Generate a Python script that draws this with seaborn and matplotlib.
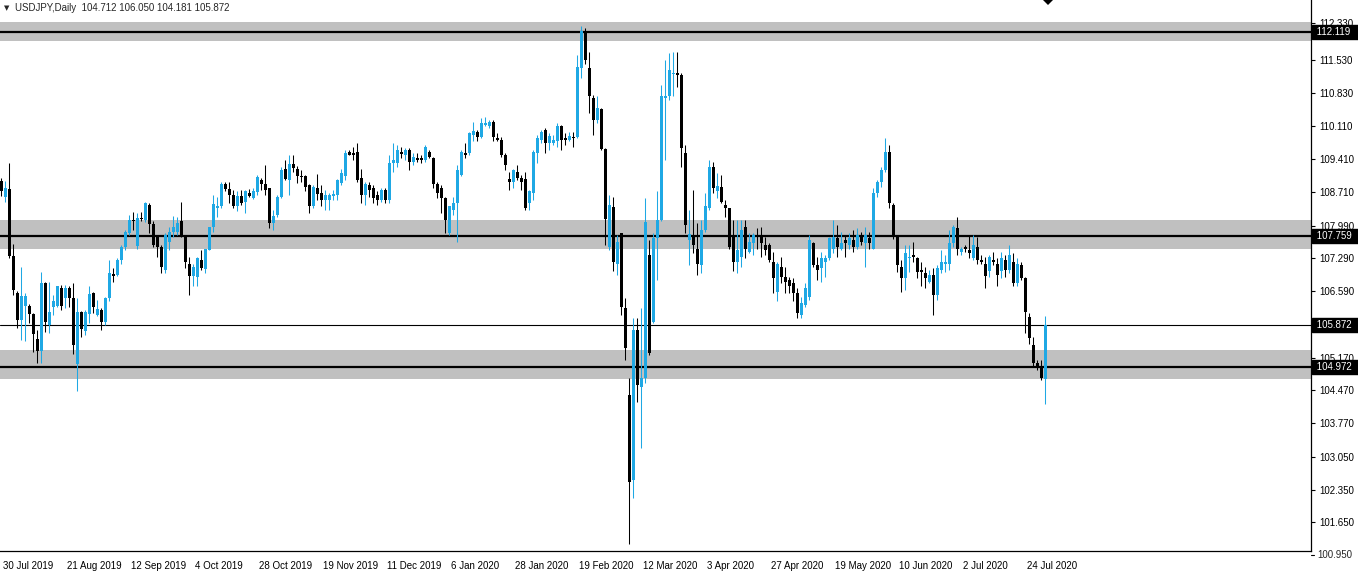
"""
USDJPY daily candles, 30 Jul 2019 - 31 Jul 2020, in the MT4 look
(support/resistance zones and level lines on a white chart).
"""

import numpy as np
import matplotlib
matplotlib.use("Agg")
import matplotlib.pyplot as plt
import matplotlib.transforms as mtransforms
from matplotlib.patches import Polygon
import seaborn as sns

# one bar per trading day (no bars on 25 Dec / 1 Jan)
opens = [
    108.95, 108.61, 108.77, 107.34, 106.55, 105.97, 106.28, 106.28, 106.10, 105.57,
    105.30, 106.77, 105.87, 106.26, 106.27, 106.66, 106.44, 106.65, 106.45, 105.03,
    106.14, 105.73, 106.10, 106.54, 106.07, 106.19, 105.94, 106.44, 106.95, 106.93,
    107.26, 107.54, 107.83, 108.11, 107.55, 108.16, 108.11, 108.43, 108.02, 107.75,
    107.54, 107.04, 107.65, 107.86, 107.86, 108.09, 107.74, 107.18, 106.91, 106.90,
    107.26, 107.06, 107.47, 107.95, 108.36, 108.41, 108.87, 108.77, 108.64, 108.41,
    108.62, 108.49, 108.69, 108.58, 108.70, 108.97, 108.89, 108.79, 108.04, 108.22,
    108.61, 109.20, 108.97, 109.30, 109.21, 109.05, 109.04, 108.86, 108.40, 108.79,
    108.68, 108.54, 108.54, 108.63, 108.65, 108.91, 109.04, 109.57, 109.54, 109.57,
    109.00, 108.65, 108.86, 108.79, 108.65, 108.54, 108.75, 108.54, 109.32, 109.32,
    109.57, 109.50, 109.61, 109.36, 109.43, 109.43, 109.39, 109.57, 109.43, 108.89,
    108.79, 108.57, 107.83, 108.32, 108.47, 109.07, 109.54, 109.54, 109.93, 110.00,
    109.89, 110.14, 110.11, 110.21, 109.86, 109.83, 109.50, 108.99, 108.93, 109.14,
    109.00, 108.99, 108.47, 108.68, 109.54, 109.82, 110.03, 109.76, 109.76, 109.79,
    110.12, 109.86, 109.82, 109.89, 109.89, 111.35, 112.10, 111.35, 110.71, 110.25,
    110.48, 109.62, 107.54, 108.39, 107.18, 107.83, 106.24, 104.37, 102.55, 105.76,
    104.55, 104.73, 107.36, 105.94, 107.72, 108.11, 110.71, 110.75, 111.22, 111.25,
    111.21, 109.54, 107.68, 107.75, 107.50, 107.15, 107.90, 108.36, 109.25, 108.72,
    108.82, 108.43, 108.36, 107.79, 107.22, 107.33, 107.97, 107.43, 107.61, 107.79,
    107.79, 107.58, 107.58, 107.22, 106.58, 107.11, 106.90, 106.83, 106.76, 106.54,
    106.08, 106.30, 106.47, 107.61, 107.15, 107.08, 107.22, 107.29, 107.50, 107.72,
    107.50, 107.68, 107.58, 107.68, 107.54, 107.75, 107.61, 107.72, 107.50, 108.68,
    108.93, 109.18, 109.57, 108.43, 107.75, 107.11, 106.86, 107.29, 107.36, 107.29,
    107.04, 106.97, 106.79, 106.93, 106.51, 107.04, 107.18, 107.18, 107.61, 107.93,
    107.43, 107.54, 107.47, 107.29, 107.54, 107.26, 107.18, 107.01, 107.26, 107.18,
    107.01, 107.26, 107.04, 107.22, 106.76, 107.15, 106.86, 106.04, 105.44, 105.05,
    104.94, 104.712,
]
highs = [
    109.00, 108.95, 109.32, 107.59, 106.60, 107.10, 106.55, 106.32, 106.12, 105.76,
    106.99, 106.79, 106.78, 106.50, 106.71, 106.72, 106.72, 106.70, 106.77, 106.44,
    106.16, 106.19, 106.69, 106.58, 106.40, 106.22, 106.47, 107.26, 107.08, 107.29,
    107.58, 107.90, 108.22, 108.29, 108.25, 108.29, 108.50, 108.47, 108.08, 107.79,
    107.58, 107.83, 107.97, 108.20, 108.18, 108.49, 107.79, 107.31, 107.18, 107.33,
    107.47, 107.50, 107.97, 108.64, 108.61, 108.93, 108.93, 108.93, 108.75, 108.72,
    108.75, 108.75, 108.78, 108.80, 109.07, 109.00, 109.29, 108.79, 108.32, 108.65,
    109.25, 109.39, 109.50, 109.50, 109.26, 109.18, 109.07, 108.89, 108.86, 109.09,
    108.86, 108.75, 108.68, 108.75, 108.99, 109.21, 109.61, 109.61, 109.68, 109.75,
    109.21, 108.93, 108.93, 108.86, 108.72, 108.79, 108.79, 109.50, 109.75, 109.71,
    109.68, 109.64, 109.64, 109.54, 109.54, 109.50, 109.71, 109.61, 109.46, 108.93,
    108.86, 108.61, 108.40, 108.61, 109.29, 109.61, 109.75, 110.00, 110.21, 110.03,
    110.28, 110.32, 110.25, 110.25, 109.96, 109.89, 109.54, 109.14, 109.21, 109.29,
    109.07, 109.14, 108.75, 109.61, 109.93, 110.03, 110.07, 109.96, 109.93, 110.18,
    110.14, 109.96, 110.00, 110.00, 111.64, 112.26, 112.21, 111.71, 110.78, 110.75,
    110.50, 109.64, 108.64, 108.61, 107.79, 107.83, 106.44, 104.73, 106.01, 106.01,
    106.22, 108.57, 107.68, 107.83, 108.72, 111.00, 111.53, 111.67, 111.71, 111.71,
    111.25, 109.71, 108.32, 108.75, 108.04, 108.11, 108.68, 109.39, 109.36, 109.11,
    109.07, 108.54, 108.36, 108.11, 108.11, 108.11, 108.11, 107.83, 107.83, 107.93,
    107.97, 107.75, 107.61, 107.43, 107.22, 107.33, 107.11, 106.90, 106.86, 106.65,
    106.47, 106.76, 107.79, 107.65, 107.33, 107.43, 107.36, 107.75, 108.11, 108.00,
    107.86, 107.79, 107.83, 107.90, 107.93, 107.86, 107.97, 107.86, 108.79, 108.97,
    109.25, 109.86, 109.71, 108.47, 107.78, 107.25, 107.58, 107.58, 107.65, 107.33,
    107.22, 107.11, 107.04, 107.08, 107.15, 107.47, 107.36, 107.90, 108.00, 108.18,
    107.54, 107.58, 107.77, 107.79, 107.75, 107.36, 107.33, 107.36, 107.43, 107.29,
    107.43, 107.36, 107.58, 107.40, 107.29, 107.22, 106.90, 106.12, 105.62, 105.12,
    105.12, 106.050,
]
lows = [
    108.62, 108.50, 107.30, 106.51, 105.80, 105.55, 105.52, 105.90, 105.28, 105.06,
    105.06, 105.72, 105.70, 106.08, 106.25, 106.19, 106.22, 106.26, 105.25, 104.46,
    105.62, 105.65, 105.90, 106.12, 106.05, 105.76, 105.87, 106.37, 106.79, 106.91,
    107.18, 107.47, 107.79, 107.90, 107.50, 108.08, 108.07, 107.83, 107.54, 107.33,
    106.98, 106.97, 107.47, 107.75, 107.79, 107.74, 107.08, 106.51, 106.69, 106.69,
    107.04, 106.97, 107.46, 107.86, 108.18, 108.36, 108.72, 108.47, 108.36, 108.30,
    108.43, 108.25, 108.60, 108.55, 108.65, 108.75, 108.65, 107.93, 107.90, 108.18,
    108.57, 108.97, 108.65, 109.14, 108.91, 108.93, 108.72, 108.25, 108.36, 108.54,
    108.40, 108.32, 108.32, 108.54, 108.54, 108.86, 108.97, 109.50, 109.39, 108.93,
    108.47, 108.43, 108.61, 108.47, 108.43, 108.50, 108.47, 108.47, 109.14, 109.25,
    109.43, 109.40, 109.18, 109.29, 109.36, 109.32, 109.36, 109.43, 108.79, 108.57,
    108.25, 107.83, 107.79, 108.22, 107.65, 109.04, 109.43, 109.50, 109.79, 109.79,
    109.86, 110.11, 110.07, 109.79, 109.79, 109.46, 109.18, 108.75, 108.79, 108.96,
    108.75, 108.32, 108.32, 108.54, 109.32, 109.75, 109.54, 109.61, 109.71, 109.68,
    109.61, 109.71, 109.79, 109.68, 109.86, 111.14, 111.45, 110.39, 109.93, 110.18,
    109.61, 107.58, 107.47, 107.01, 106.93, 106.08, 105.12, 101.19, 102.16, 104.23,
    103.23, 104.62, 105.22, 105.90, 106.83, 108.08, 109.39, 110.68, 110.75, 110.96,
    109.25, 107.83, 107.15, 107.40, 106.94, 106.97, 107.86, 108.32, 108.68, 108.57,
    108.47, 108.18, 107.50, 107.01, 106.97, 107.11, 107.29, 107.40, 107.36, 107.50,
    107.33, 107.36, 107.22, 106.54, 106.37, 106.76, 106.54, 106.54, 106.37, 106.01,
    106.01, 106.26, 106.40, 107.11, 106.83, 106.79, 106.90, 107.25, 107.40, 107.33,
    107.47, 107.33, 107.50, 107.43, 107.50, 107.58, 107.11, 107.50, 107.50, 108.61,
    108.82, 109.14, 108.36, 107.70, 107.00, 106.58, 106.61, 107.00, 107.22, 106.86,
    106.69, 106.65, 106.76, 106.08, 106.40, 106.97, 107.00, 107.04, 107.54, 107.36,
    107.36, 107.43, 107.29, 107.25, 107.18, 107.18, 106.65, 106.90, 107.15, 106.69,
    106.86, 106.90, 106.97, 106.69, 106.69, 106.83, 105.69, 105.47, 104.98, 104.90,
    104.69, 104.181,
]
closes = [
    108.72, 108.79, 107.35, 106.62, 105.97, 106.49, 106.48, 106.10, 105.67, 105.32,
    106.77, 105.93, 106.14, 106.38, 106.69, 106.27, 106.66, 106.44, 105.44, 106.14,
    105.78, 106.14, 106.53, 106.26, 106.20, 105.94, 106.45, 106.97, 106.91, 107.26,
    107.54, 107.86, 108.12, 108.09, 108.15, 108.13, 108.47, 108.03, 107.58, 107.54,
    107.10, 107.79, 107.86, 107.95, 108.05, 107.75, 107.21, 106.91, 107.11, 107.29,
    107.08, 107.48, 107.95, 108.45, 108.41, 108.89, 108.77, 108.65, 108.40, 108.62,
    108.47, 108.72, 108.63, 108.72, 109.02, 108.89, 108.75, 108.04, 108.20, 108.61,
    109.18, 108.99, 109.30, 109.23, 109.05, 109.02, 108.82, 108.41, 108.81, 108.67,
    108.54, 108.65, 108.65, 108.66, 108.97, 109.11, 109.54, 109.51, 109.50, 108.97,
    108.65, 108.89, 108.75, 108.57, 108.54, 108.75, 108.54, 109.32, 109.39, 109.61,
    109.52, 109.61, 109.36, 109.46, 109.39, 109.39, 109.68, 109.46, 108.89, 108.68,
    108.57, 108.11, 108.40, 108.47, 109.18, 109.57, 109.50, 109.96, 110.02, 109.89,
    110.19, 110.18, 110.21, 109.88, 109.83, 109.50, 109.29, 108.93, 109.18, 109.00,
    108.93, 108.36, 108.72, 109.57, 109.86, 110.00, 109.76, 109.91, 109.83, 110.12,
    109.82, 109.82, 109.91, 109.87, 111.39, 112.14, 111.53, 110.75, 110.25, 110.50,
    109.62, 108.13, 108.43, 107.22, 107.63, 106.26, 105.37, 102.52, 105.76, 104.58,
    104.73, 108.07, 105.26, 107.72, 108.11, 110.75, 110.75, 111.32, 111.24, 111.21,
    109.64, 108.00, 107.82, 107.58, 107.18, 107.90, 108.40, 109.25, 108.79, 108.84,
    108.50, 108.36, 107.54, 107.22, 107.47, 107.90, 107.50, 107.65, 107.79, 107.75,
    107.61, 107.47, 107.26, 106.86, 107.18, 106.90, 106.79, 106.69, 106.54, 106.12,
    106.33, 106.65, 107.68, 107.15, 107.04, 107.29, 107.29, 107.72, 107.75, 107.54,
    107.61, 107.61, 107.72, 107.54, 107.79, 107.65, 107.79, 107.61, 108.68, 108.93,
    109.18, 109.57, 108.47, 107.75, 107.15, 106.86, 107.40, 107.33, 107.31, 107.00,
    106.99, 106.86, 106.93, 106.51, 107.08, 107.22, 107.22, 107.61, 107.97, 107.50,
    107.50, 107.48, 107.40, 107.58, 107.26, 107.22, 106.92, 107.31, 107.22, 106.93,
    107.29, 107.04, 107.36, 106.76, 107.18, 106.86, 106.15, 105.58, 105.05, 104.94,
    104.73, 105.872,
]

date_labels = [
    "30 Jul 2019", "21 Aug 2019", "12 Sep 2019", "4 Oct 2019", "28 Oct 2019",
    "19 Nov 2019", "11 Dec 2019", "6 Jan 2020", "28 Jan 2020", "19 Feb 2020",
    "12 Mar 2020", "3 Apr 2020", "27 Apr 2020", "19 May 2020", "10 Jun 2020",
    "2 Jul 2020", "24 Jul 2020",
]
bars_per_label = 16

price_ticks = [112.330, 111.530, 110.830, 110.110, 109.410, 108.710, 107.990,
               107.290, 106.590, 105.170, 104.470, 103.770, 103.050, 102.350,
               101.650]
bottom_tick = 100.950

zones = [(111.936, 112.342), (107.49, 108.11), (104.71, 105.33)]
levels = [112.119, 107.759, 104.972]
last_price = 105.872

symbol = "USDJPY,Daily"

BULL = "#1FA8E4"
BEAR = "black"
ZONE = "#C0C0C0"

assert len(opens) == len(highs) == len(lows) == len(closes)

sns.set_style("white")
plt.rcParams["font.family"] = ["Liberation Sans", "DejaVu Sans"]

W, H = 1358, 577
fig = plt.figure(figsize=(W / 100, H / 100), dpi=100)
fig.patch.set_facecolor("white")
ax = fig.add_axes([0, 26 / H, 1311 / W, 551 / H])
ax.set_facecolor("white")

o = np.array(opens)
h = np.array(highs)
lo = np.array(lows)
c = np.array(closes)
x = np.arange(len(o))
up = c >= o
colors = np.where(up, BULL, BEAR)

# zones sit in the background
for z_lo, z_hi in zones:
    ax.axhspan(z_lo, z_hi, color=ZONE, lw=0, zorder=1)
for lvl in levels:
    ax.axhline(lvl, color="black", lw=1.6, zorder=2)
ax.axhline(last_price, color="black", lw=0.8, zorder=2)

# candles: wick + body (min body height of ~1px so doji still show)
ax.vlines(x, lo, h, colors=colors, lw=0.75, zorder=3)
body_lo = np.minimum(o, c)
body_h = np.maximum(np.abs(c - o), 0.022)
ax.bar(x, body_h, bottom=body_lo, width=0.75, color=colors, lw=0, zorder=4)

ax.set_xlim(-0.25, 327.5)
ax.set_ylim(101.036, 112.812)

for side in ["left", "top"]:
    ax.spines[side].set_visible(False)
for side in ["right", "bottom"]:
    ax.spines[side].set_color("black")
    ax.spines[side].set_linewidth(0.9)

# price scale on the right
ax.yaxis.tick_right()
ax.set_yticks(price_ticks)
ax.set_yticklabels([f"{p:.3f}" for p in price_ticks])
ax.tick_params(axis="y", length=3, width=0.8, pad=3, labelsize=7,
               colors="black", direction="out")

blend = mtransforms.blended_transform_factory(ax.transAxes, ax.transData)
ax.plot([1.0, 1.0 + 3 / 1311], [bottom_tick, bottom_tick], color="black",
        lw=0.8, transform=blend, clip_on=False)
ax.text(1.0 + 6 / 1311, bottom_tick, f"{bottom_tick:.3f}", transform=blend,
        ha="left", va="center", fontsize=7, clip_on=False)

for lvl in levels + [last_price]:
    ax.text(1.0 + 3 / 1311, lvl, f" {lvl:.3f}  ", transform=blend, ha="left",
            va="center", fontsize=7, color="white", zorder=6, clip_on=False,
            bbox=dict(boxstyle="square,pad=0.2", fc="black", ec="black"))

# date scale
tick_idx = [i * bars_per_label for i in range(len(date_labels))]
ax.set_xticks(tick_idx)
ax.set_xticklabels(date_labels, ha="left")
ax.tick_params(axis="x", length=3, width=0.8, pad=4, labelsize=7,
               colors="black", direction="out")
shift = mtransforms.ScaledTranslation(2 / 100, 0, fig.dpi_scale_trans)
for lab in ax.get_xticklabels():
    lab.set_transform(lab.get_transform() + shift)

# header + chart-shift marker
fig.text(4 / W, 1 - 8 / H, "\u25BC", fontsize=5, va="center", ha="left",
         family="DejaVu Sans")
last = len(o) - 1
header = (f"{symbol}  {opens[last]:.3f} {highs[last]:.3f} "
          f"{lows[last]:.3f} {closes[last]:.3f}")
fig.text(15 / W, 1 - 8 / H, header, fontsize=7, va="center", ha="left")
fig.patches.append(Polygon([[1043 / W, 1.0], [1053 / W, 1.0], [1048 / W, 1 - 5 / H]],
                           closed=True, transform=fig.transFigure,
                           fc="black", ec="none"))

fig.savefig("out.png", dpi=100, facecolor="white")
